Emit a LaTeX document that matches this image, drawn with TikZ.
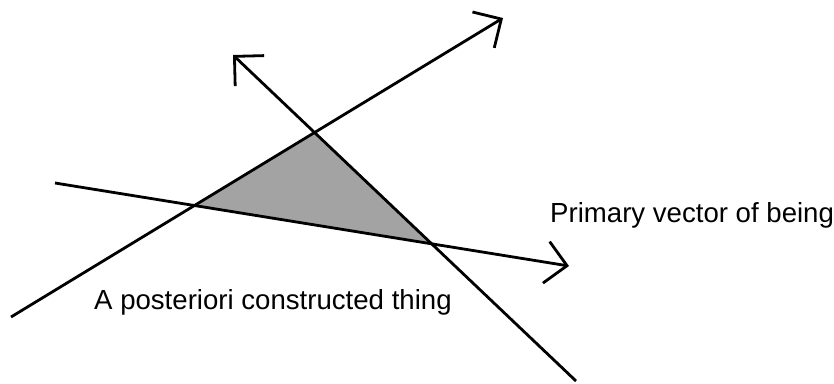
\documentclass[tikz,border=0pt]{standalone}
\usepackage{fontspec}
\setmainfont{Liberation Sans}
\usetikzlibrary{arrows.meta}
\definecolor{shadegray}{RGB}{163,163,163}

\begin{document}
\begin{tikzpicture}[
  x=1pt, y=-1pt,
  vector/.style={line width=2.8pt, -{Straight Barb[length=21pt,width=42pt]}},
  caption/.style={font=\fontsize{27.6}{33}\selectfont, inner sep=0pt, anchor=base west}
]
\useasboundingbox (0,0) rectangle (834,383);
% the three lines
\coordinate (being-start) at (55,183);
\coordinate (being-end) at (569,266);
\coordinate (rise-start) at (11,317);
\coordinate (rise-end) at (503,18);
\coordinate (fall-start) at (576,381);
\coordinate (fall-end) at (233,55);
% shaded triangle between them
\fill[shadegray]
  (intersection of being-start--being-end and rise-start--rise-end)
  -- (intersection of rise-start--rise-end and fall-start--fall-end)
  -- (intersection of fall-start--fall-end and being-start--being-end)
  -- cycle;
\draw[vector] (being-start) -- (being-end);
\draw[vector] (rise-start) -- (rise-end);
\draw[vector] (fall-start) -- (fall-end);
\node[caption] (being-label) at (550,222) {Primary vector of being};
\node[caption] (thing-label) at (94,309) {A posteriori constructed thing};
\end{tikzpicture}
\end{document}
